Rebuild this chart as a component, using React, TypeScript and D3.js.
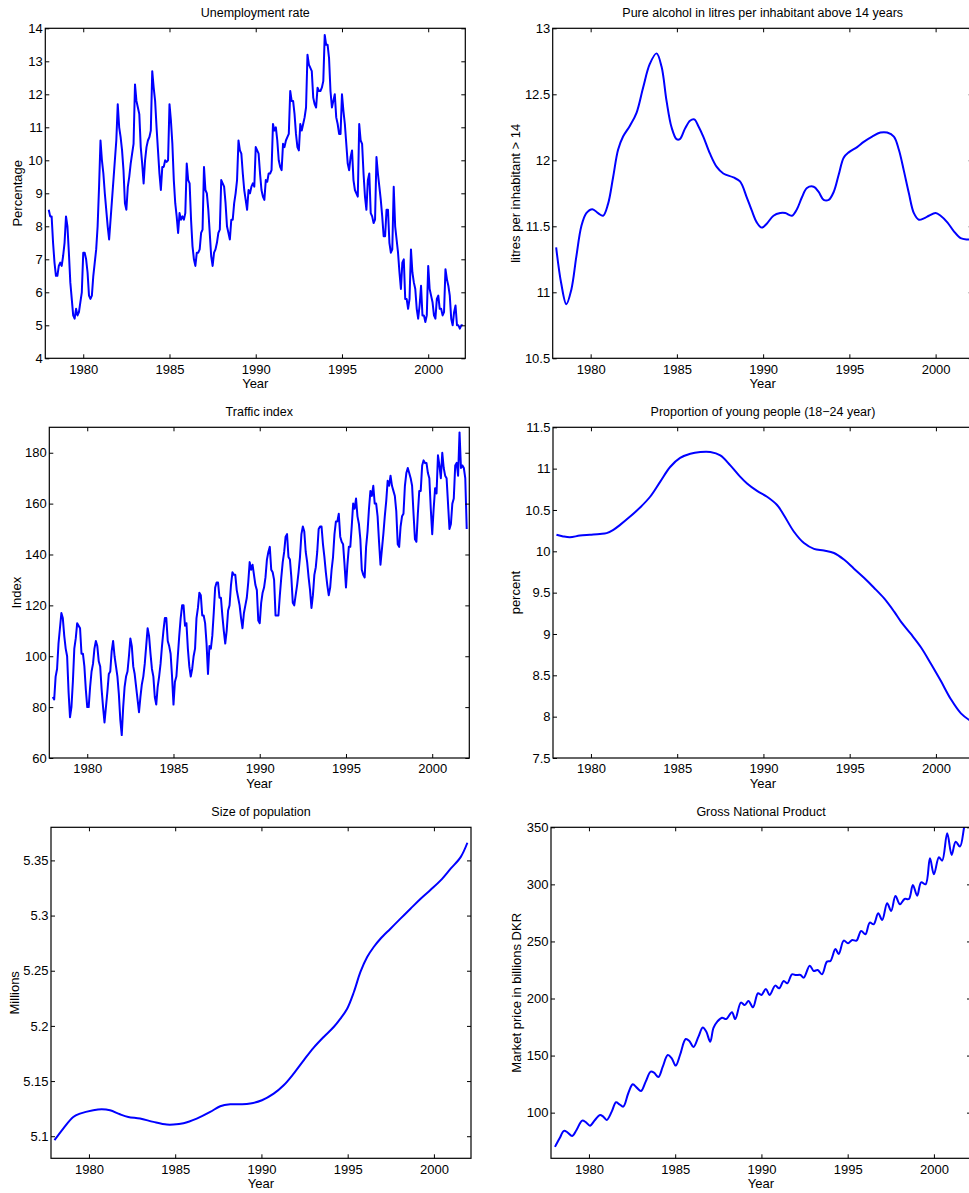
import React, { useEffect, useRef } from "react";
import * as d3 from "d3";

const WIDTH = 969;
const HEIGHT = 1193;
const FONT = "'Liberation Sans', Arial, Helvetica, sans-serif";
const X_DOMAIN = [1977.8, 2002.15];
const yearTicks = [1980, 1985, 1990, 1995, 2000];

// monthly values, Jan 1978 .. Jan 2002
const unemployment = [
  8.5, 8.3, 8.3, 7.5, 6.9, 6.5, 6.5, 6.8, 6.9, 6.8, 7.1, 7.5,
  8.3, 8.0, 7.2, 6.3, 5.8, 5.3, 5.2, 5.5, 5.3, 5.4, 5.7, 6.0,
  7.2, 7.2, 7.0, 6.6, 5.9, 5.8, 5.9, 6.5, 6.9, 7.3, 8.0, 9.2,
  10.6, 10.0, 9.6, 9.0, 8.5, 8.0, 7.6, 8.2, 8.8, 9.4, 10.0, 10.6,
  11.7, 11.0, 10.7, 10.3, 9.7, 8.7, 8.5, 9.2, 9.5, 9.9, 10.2, 10.5,
  12.3, 11.8, 11.6, 11.4, 10.4, 9.9, 9.3, 10.0, 10.4, 10.6, 10.7, 10.9,
  12.7, 12.2, 11.8, 11.0, 10.3, 9.6, 9.1, 9.8, 9.8, 10.0, 9.95, 10.0,
  11.7, 11.2, 10.5, 9.4, 8.7, 8.3, 7.8, 8.4, 8.2, 8.3, 8.2, 8.4,
  9.9, 9.4, 9.3, 8.2, 7.4, 7.0, 6.8, 7.2, 7.2, 7.3, 7.8, 7.9,
  9.8, 9.1, 9.0, 8.5, 7.8, 7.1, 6.8, 7.2, 7.3, 7.5, 7.8, 7.9,
  9.4, 9.3, 9.2, 8.7, 8.0, 7.8, 7.6, 8.2, 8.2, 8.7, 9.0, 9.4,
  10.6, 10.3, 10.2, 9.6, 9.1, 8.8, 8.5, 9.1, 9.0, 9.2, 9.3, 9.2,
  10.4, 10.3, 10.2, 9.6, 9.1, 8.9, 8.8, 9.4, 9.35, 9.6, 9.6, 9.7,
  11.1, 10.9, 11.0, 10.6, 10.0, 9.8, 9.7, 10.5, 10.4, 10.6, 10.7, 10.8,
  12.1, 11.8, 11.8, 11.4, 10.8, 10.4, 10.3, 11.1, 10.9, 11.1, 11.3, 11.6,
  13.2, 12.9, 12.8, 12.7, 11.9, 11.7, 11.6, 12.2, 12.1, 12.1, 12.2, 12.4,
  13.8, 13.5, 13.5, 13.1, 12.1, 11.6, 11.8, 12.0, 11.3, 11.1, 10.8, 10.8,
  12.0, 11.5, 11.1, 10.5, 9.9, 9.7, 10.1, 10.3, 9.4, 9.1, 9.0, 8.9,
  11.1, 10.6, 10.5, 9.6, 8.9, 8.5, 9.4, 9.6, 8.4, 8.3, 8.1, 8.2,
  10.1, 9.6, 9.2, 8.8, 8.3, 7.7, 7.7, 8.5, 8.5, 7.5, 7.2, 7.3,
  9.2, 8.0, 7.6, 7.2, 6.6, 6.1, 6.9, 7.0, 5.8, 5.8, 5.5, 5.8,
  7.3, 6.6, 6.3, 6.1, 5.5, 5.2, 5.6, 6.2, 5.3, 5.3, 5.1, 5.3,
  6.8, 6.1, 5.9, 5.7, 5.3, 5.2, 5.8, 5.9, 5.5, 5.5, 5.3, 5.4,
  6.7, 6.4, 6.2, 5.9, 5.2, 5.0, 5.4, 5.6, 5.0, 5.0, 4.9, 5.0,
  5.0,
];

// monthly values, Jan 1978 .. Jan 2002
const traffic = [
  84, 83, 92, 95, 105, 111, 117, 115, 108, 103, 100, 86,
  76, 80, 90, 103, 107, 113, 112, 111, 101, 101, 96, 87,
  80, 80, 88, 94, 97, 103, 106, 104, 98, 96, 87, 80,
  74, 80, 86, 93, 94, 102, 106, 100, 96, 92, 85, 75,
  69, 80, 88, 92, 94, 100, 107, 104, 96, 93, 88, 83,
  78, 84, 89, 92, 97, 104, 111, 108, 101, 95, 92, 84,
  81, 88, 92, 97, 104, 110, 115, 115, 106, 104, 101, 92,
  81, 90, 92, 100, 108, 115, 120, 120, 112, 113, 103, 96,
  92, 95, 100, 103, 115, 119, 125, 124, 116, 116, 113, 105,
  93, 104, 103, 108, 117, 127, 129, 129, 123, 123, 116, 110,
  105, 110, 118, 120, 128, 133, 132, 132, 126, 123, 120, 115,
  111, 117, 120, 123, 129, 137, 134, 136, 132, 128, 126, 114,
  113, 121, 125, 127, 131, 138, 141, 143, 134, 133, 130, 116,
  116, 116, 124, 131, 137, 141, 147, 148, 139, 138, 131, 121,
  120, 124, 128, 133, 139, 148, 151, 149, 141, 137, 131, 126,
  119, 124, 132, 135, 141, 150, 151, 151, 144, 139, 133, 128,
  124, 127, 134, 139, 148, 153, 153, 156, 147, 145, 144, 136,
  127, 136, 143, 143, 151, 160, 158, 162, 155, 152, 146, 134,
  132, 131, 143, 149, 158, 165, 163, 167, 160, 160, 155, 145,
  136, 142, 148, 155, 161, 169, 167, 171, 167, 165, 163, 157,
  144, 143, 151, 155, 156, 167, 172, 174, 172, 170, 167, 156,
  146, 145, 156, 165, 165, 175, 177, 176, 176, 172, 170, 158,
  148, 158, 166, 164, 179, 175, 170, 180, 174, 171, 170, 160,
  150, 152, 160, 162, 175, 176, 171, 188, 174, 175, 174, 170,
  150,
];

const alcoholYears = [
  1978.0, 1978.29, 1978.59, 1978.88, 1979.17, 1979.46, 1979.75, 1980.1, 1980.43, 1980.72,
  1981.01, 1981.3, 1981.59, 1981.88, 1982.27, 1982.66, 1983.04, 1983.43, 1983.82, 1984.11,
  1984.4, 1984.69, 1984.98, 1985.17, 1985.47, 1985.76, 1986.01, 1986.24, 1986.53, 1986.92,
  1987.31, 1987.69, 1988.28, 1988.66, 1989.05, 1989.34, 1989.63, 1989.92, 1990.21, 1990.6,
  1990.99, 1991.28, 1991.67, 1991.96, 1992.25, 1992.54, 1992.93, 1993.22, 1993.51, 1993.8,
  1994.09, 1994.38, 1994.67, 1994.96, 1995.45, 1995.83, 1996.32, 1996.8, 1997.19, 1997.58,
  1997.87, 1998.16, 1998.45, 1998.74, 1999.03, 1999.32, 1999.61, 2000.0, 2000.29, 2000.68,
  2001.07, 2001.45, 2001.84, 2002.0,
];
const alcohol = [
  11.34, 11.07, 10.91, 11.02, 11.27, 11.5, 11.6, 11.63, 11.6, 11.58,
  11.67, 11.87, 12.08, 12.18, 12.26, 12.36, 12.55, 12.73, 12.81, 12.71,
  12.45, 12.25, 12.16, 12.16, 12.24, 12.3, 12.31, 12.26, 12.18, 12.05,
  11.95, 11.9, 11.87, 11.84, 11.72, 11.62, 11.53, 11.49, 11.52, 11.58,
  11.6, 11.6, 11.58, 11.63, 11.72, 11.79, 11.8, 11.76, 11.7, 11.7,
  11.76, 11.89, 12.02, 12.06, 12.1, 12.14, 12.18, 12.21, 12.21, 12.18,
  12.08, 11.92, 11.75, 11.6, 11.55, 11.56, 11.58, 11.6, 11.58, 11.53,
  11.46, 11.41, 11.4, 11.4,
];

const youngYears = [
  1978.0, 1978.39, 1978.78, 1979.36, 1979.94, 1980.52, 1980.91, 1981.3, 1981.69, 1982.27,
  1982.85, 1983.43, 1984.01, 1984.59, 1985.17, 1985.76, 1986.34, 1986.92, 1987.5, 1988.08,
  1988.66, 1989.05, 1989.63, 1990.21, 1990.79, 1991.18, 1991.76, 1992.35, 1992.93, 1993.51,
  1994.09, 1994.67, 1995.25, 1995.83, 1996.41, 1997.0, 1997.58, 1997.97, 1998.55, 1999.13,
  1999.71, 2000.29, 2000.87, 2001.45, 2002.0,
];
const young = [
  10.2, 10.18, 10.17, 10.19, 10.2, 10.21, 10.22, 10.26, 10.32, 10.42,
  10.53, 10.66, 10.84, 11.02, 11.13, 11.18, 11.2, 11.2, 11.16, 11.04,
  10.9, 10.82, 10.73, 10.66, 10.56, 10.44, 10.24, 10.1, 10.03, 10.01,
  9.98, 9.9, 9.79, 9.68, 9.56, 9.43, 9.27, 9.15, 9.0, 8.84,
  8.64, 8.43, 8.21, 8.04, 7.95,
];

const populationYears = [
  1978.0, 1978.51, 1979.09, 1979.48, 1980.25, 1980.74, 1981.22, 1981.8, 1982.28, 1982.96,
  1983.74, 1984.51, 1984.9, 1985.48, 1986.25, 1987.03, 1987.61, 1988.19, 1988.77, 1989.35,
  1990.03, 1990.71, 1991.29, 1991.87, 1992.45, 1993.03, 1993.61, 1994.19, 1994.58, 1994.97,
  1995.36, 1995.74, 1996.13, 1996.51, 1996.9, 1997.48, 1998.06, 1998.64, 1999.23, 1999.81,
  2000.39, 2000.97, 2001.55, 2001.94,
];
const population = [
  5.0964, 5.107, 5.1175, 5.1205, 5.1236, 5.1245, 5.1236, 5.1199, 5.1175, 5.116,
  5.113, 5.1106, 5.1106, 5.1118, 5.116, 5.122, 5.1272, 5.129, 5.129, 5.1296,
  5.1326, 5.1386, 5.1462, 5.1568, 5.1688, 5.1803, 5.19, 5.199, 5.2066, 5.2156,
  5.2307, 5.2489, 5.2624, 5.2715, 5.279, 5.2881, 5.2972, 5.3062, 5.3153, 5.3234,
  5.3319, 5.3425, 5.353, 5.366,
];

const gnpYears = [
  1978.03, 1978.3, 1978.55, 1978.75, 1979.03, 1979.28, 1979.61, 1979.83, 1980.06, 1980.35,
  1980.64, 1980.83, 1981.03, 1981.32, 1981.57, 1981.77, 1981.99, 1982.28, 1982.54, 1982.77,
  1983.02, 1983.29, 1983.58, 1983.77, 1984.03, 1984.28, 1984.57, 1984.8, 1985.03, 1985.28,
  1985.61, 1985.82, 1986.06, 1986.35, 1986.6, 1986.8, 1987.03, 1987.22, 1987.45, 1987.71,
  1987.96, 1988.29, 1988.48, 1988.81, 1989.03, 1989.25, 1989.51, 1989.8, 1990.0, 1990.26,
  1990.47, 1990.8, 1991.03, 1991.29, 1991.5, 1991.77, 1992.0, 1992.26, 1992.45, 1992.8,
  1993.03, 1993.26, 1993.51, 1993.8, 1994.0, 1994.29, 1994.48, 1994.77, 1995.02, 1995.26,
  1995.51, 1995.78, 1996.03, 1996.28, 1996.51, 1996.77, 1997.0, 1997.29, 1997.52, 1997.77,
  1998.03, 1998.3, 1998.55, 1998.78, 1999.03, 1999.26, 1999.52, 1999.77, 2000.0, 2000.29,
  2000.48, 2000.77, 2001.03, 2001.26, 2001.51, 2001.78, 2002.0,
];
const gnp = [
  70, 77.5, 84, 82.8, 79.6, 84.8, 93, 91.5, 88.6, 93.6,
  98, 96.5, 93.6, 100.9, 109.1, 107.3, 105.3, 117, 124.8, 121.9,
  119, 127.2, 135.9, 135, 131.3, 140.3, 150.5, 147.6, 141.2, 150.5,
  164.5, 162.8, 157.5, 166.6, 174.5, 171, 162.2, 174.2, 179.9, 183.2,
  182, 188, 182, 196.4, 194.3, 197.8, 192.3, 204.6, 203.1, 208.4,
  203.1, 211.3, 208.9, 215.4, 213.3, 221.2, 220.5, 220.6, 218.3, 228.8,
  224.1, 225, 221.2, 232.3, 232.9, 243.4, 239, 250.7, 248.4, 251.3,
  250.7, 259.2, 256.3, 266.5, 265, 274.6, 268.8, 283.4, 276.7, 289.8,
  282.5, 287.2, 287.2, 299.5, 290.1, 301.8, 300.1, 322.8, 308.8, 323.7,
  320.8, 344.7, 325.8, 337.4, 333.1, 352, 362,
];

const monthly = (values) => values.map((v, i) => [1978 + i / 12, v]);
const zip = (xs, ys) => xs.map((x, i) => [x, ys[i]]);

const panels = [
  {
    title: "Unemployment rate", ylabel: "Percentage",
    left: 45.3, top: 28.3, width: 420, height: 330, ylabelX: 22.3,
    yDomain: [4, 14], yTicks: [4, 5, 6, 7, 8, 9, 10, 11, 12, 13, 14],
    points: monthly(unemployment), smooth: false,
  },
  {
    title: "Pure alcohol in litres per inhabitant above 14 years", ylabel: "litres per inhabitant > 14",
    left: 552.7, top: 28.3, width: 420, height: 330, ylabelX: 520,
    yDomain: [10.5, 13], yTicks: [10.5, 11, 11.5, 12, 12.5, 13],
    points: zip(alcoholYears, alcohol), smooth: true,
  },
  {
    title: "Traffic index", ylabel: "Index",
    left: 49.3, top: 427.3, width: 420, height: 330.7, ylabelX: 20.7,
    yDomain: [60, 190], yTicks: [60, 80, 100, 120, 140, 160, 180],
    points: monthly(traffic), smooth: false,
  },
  {
    title: "Proportion of young people (18\u221224 year)", ylabel: "percent",
    left: 553, top: 427.3, width: 420, height: 330.7, ylabelX: 519.6,
    yDomain: [7.5, 11.5], yTicks: [7.5, 8, 8.5, 9, 9.5, 10, 10.5, 11, 11.5],
    points: zip(youngYears, young), smooth: true,
  },
  {
    title: "Size of population", ylabel: "Millions",
    left: 51, top: 827.3, width: 420, height: 331, ylabelX: 19.3,
    yDomain: [5.08, 5.38], yTicks: [5.1, 5.15, 5.2, 5.25, 5.3, 5.35],
    points: zip(populationYears, population), smooth: true,
  },
  {
    title: "Gross National Product", ylabel: "Market price in billions DKR",
    left: 551, top: 827.3, width: 420, height: 331, ylabelX: 520.6,
    yDomain: [60, 350], yTicks: [100, 150, 200, 250, 300, 350],
    points: zip(gnpYears, gnp), smooth: true,
  },
];

export default function App() {
  const svgRef = useRef(null);

  useEffect(() => {
    const svg = d3.select(svgRef.current);
    svg.selectAll("*").remove();

    const styleAxis = (sel) => {
      sel.select(".domain").remove();
      sel.selectAll("line").attr("stroke", "#000").attr("stroke-width", 1);
      sel
        .selectAll("text")
        .attr("fill", "#000")
        .style("font-size", "13px")
        .style("font-family", FONT);
    };

    panels.forEach((p, i) => {
      const x = d3.scaleLinear().domain(X_DOMAIN).range([0, p.width]);
      const y = d3.scaleLinear().domain(p.yDomain).range([p.height, 0]);

      const g = svg.append("g").attr("transform", `translate(${p.left},${p.top})`);

      const clipId = `clip-${i}`;
      g.append("clipPath")
        .attr("id", clipId)
        .append("rect")
        .attr("width", p.width)
        .attr("height", p.height);

      const line = d3
        .line()
        .x((d) => x(d[0]))
        .y((d) => y(d[1]))
        .curve(p.smooth ? d3.curveCatmullRom.alpha(0.5) : d3.curveLinear);

      g.append("path")
        .datum(p.points)
        .attr("clip-path", `url(#${clipId})`)
        .attr("fill", "none")
        .attr("stroke", "#0000ff")
        .attr("stroke-width", 2)
        .attr("stroke-linejoin", "round")
        .attr("d", line);

      // ticks on all four sides, pointing inward
      g.append("g")
        .attr("transform", `translate(0,${p.height})`)
        .call(
          d3.axisBottom(x).tickValues(yearTicks).tickFormat(d3.format("d"))
            .tickSizeInner(-4).tickSizeOuter(0).tickPadding(6)
        )
        .call(styleAxis);
      g.append("g")
        .call(d3.axisTop(x).tickValues(yearTicks).tickFormat(() => "").tickSizeInner(-4).tickSizeOuter(0))
        .call(styleAxis);
      g.append("g")
        .call(
          d3.axisLeft(y).tickValues(p.yTicks).tickFormat((d) => String(d))
            .tickSizeInner(-4).tickSizeOuter(0).tickPadding(2.5)
        )
        .call(styleAxis);
      g.append("g")
        .attr("transform", `translate(${p.width},0)`)
        .call(d3.axisRight(y).tickValues(p.yTicks).tickFormat(() => "").tickSizeInner(-4).tickSizeOuter(0))
        .call(styleAxis);

      g.append("rect")
        .attr("width", p.width)
        .attr("height", p.height)
        .attr("fill", "none")
        .attr("stroke", "#000")
        .attr("stroke-width", 1.2);

      // Labels
      svg.append("text")
        .attr("x", p.left + p.width / 2)
        .attr("y", p.top - 11)
        .attr("text-anchor", "middle")
        .style("font-family", FONT)
        .style("font-size", "12.5px")
        .attr("fill", "#000")
        .text(p.title);

      svg.append("text")
        .attr("x", p.left + p.width / 2)
        .attr("y", p.top + p.height + 29.5)
        .attr("text-anchor", "middle")
        .style("font-family", FONT)
        .style("font-size", "13px")
        .attr("fill", "#000")
        .text("Year");

      svg.append("text")
        .attr("transform", `translate(${p.ylabelX},${p.top + p.height / 2}) rotate(-90)`)
        .attr("text-anchor", "middle")
        .style("font-family", FONT)
        .style("font-size", "13px")
        .attr("fill", "#000")
        .text(p.ylabel);
    });
  }, []);

  return (
    <div style={{ position: "absolute", left: 0, top: 0 }}>
      <svg ref={svgRef} width={WIDTH} height={HEIGHT} style={{ display: "block", background: "#fff" }}></svg>
    </div>
  );
}
